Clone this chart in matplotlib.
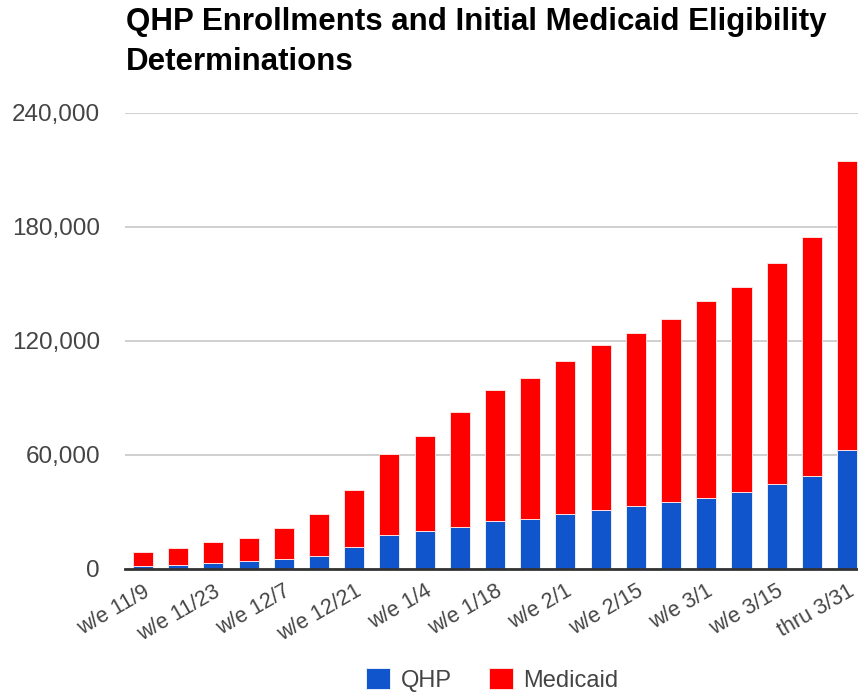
import numpy as np
import matplotlib.pyplot as plt
from matplotlib.ticker import FuncFormatter

# weekly data
weeks = ["w/e 11/9", "w/e 11/16", "w/e 11/23", "w/e 11/30", "w/e 12/7", "w/e 12/14",
         "w/e 12/21", "w/e 12/28", "w/e 1/4", "w/e 1/11", "w/e 1/18", "w/e 1/25",
         "w/e 2/1", "w/e 2/8", "w/e 2/15", "w/e 2/22", "w/e 3/1", "w/e 3/8",
         "w/e 3/15", "w/e 3/22", "thru 3/31"]
qhp = [1300, 1800, 3000, 4000, 5000, 6800, 11200, 17500, 19500, 21700, 24900,
       25900, 28800, 30900, 33000, 35100, 37200, 40300, 44600, 48800, 62500]
medicaid = [7500, 9100, 11100, 12200, 16500, 22100, 30300, 43000, 50300, 60700, 69300,
            74400, 80700, 86900, 91200, 96400, 103800, 108000, 116400, 125800, 152100]
yticks = [0, 60000, 120000, 180000, 240000]

plt.rcParams['font.family'] = ['Liberation Sans', 'DejaVu Sans']

fig = plt.figure(figsize=(8.58, 6.94), dpi=100)
ax = fig.add_axes([125/858, 1 - 568.5/694, 733/858, (568.5 - 112.7)/694])

x = np.arange(len(weeks))
blue = '#1155cc'
red = '#ff0000'
ax.bar(x, qhp, width=0.57, color=blue, edgecolor='#e8eefa', linewidth=0.7, label='QHP', zorder=3)
ax.bar(x, medicaid, width=0.57, bottom=qhp, color=red, edgecolor='#ffe0e0', linewidth=0.7,
       label='Medicaid', zorder=3)

ax.set_xlim(-0.51, 20.31)
ax.set_ylim(0, 240000)
ax.set_yticks(yticks)
ax.yaxis.set_major_formatter(FuncFormatter(lambda v, p: f"{int(v):,}"))
ax.grid(axis='y', color='#cccccc', linewidth=1.3, zorder=0)
ax.tick_params(axis='y', length=0, pad=18, labelsize=17.5, labelcolor='#444444')

ax.set_xticks(x[::2])
ax.set_xticklabels(weeks[::2], rotation=30, ha='right', rotation_mode='anchor',
                   fontsize=15.5, color='#444444')
ax.tick_params(axis='x', length=0, pad=9)

for s in ['top', 'right', 'left']:
    ax.spines[s].set_visible(False)
ax.spines['bottom'].set_color('#333333')
ax.spines['bottom'].set_linewidth(2)
ax.spines['bottom'].set_zorder(4)

fig.text(126/858, 1 - 30/694, "QHP Enrollments and Initial Medicaid Eligibility",
         fontsize=22.5, fontweight='bold', va='baseline', ha='left')
fig.text(126/858, 1 - 70/694, "Determinations",
         fontsize=22.5, fontweight='bold', va='baseline', ha='left')

fig.legend(loc='center', bbox_to_anchor=(0.574, 1 - 680/694), ncol=2, frameon=False,
           fontsize=17, handlelength=1.0, handleheight=1.0, columnspacing=1.6,
           handletextpad=0.45, labelcolor='#444444')

fig.savefig('out.png', dpi=100)
